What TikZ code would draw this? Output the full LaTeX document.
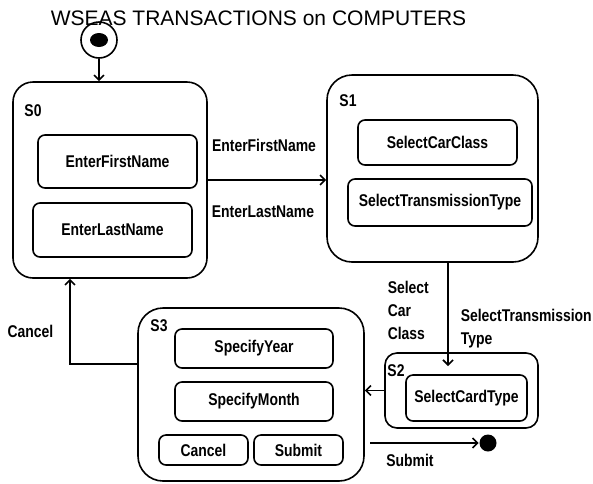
\documentclass[tikz,border=0pt]{standalone}
\usepackage{fontspec}
\setmainfont{Liberation Sans}
\newfontfamily\narrowbf[FakeStretch=0.82]{Liberation Sans Bold}
\usetikzlibrary{shapes, arrows.meta}

\begin{document}
\begin{tikzpicture}[x=1pt, y=-1pt, line width=1.6pt,
        >={Straight Barb[length=5pt, width=10pt]},
        lbl/.style = {font=\narrowbf\fontsize{17}{23}\selectfont, inner sep=0pt},
        state/.style = {draw, rectangle, rounded corners=22pt, inner sep=0pt},
        act/.style = {draw, rectangle, rounded corners=7pt, lbl}]
                \useasboundingbox (0,0) rectangle (593,483);
                \node[anchor=base west, inner sep=0pt, font=\fontsize{21}{25}\selectfont] (title) at (50,25) {WSEAS TRANSACTIONS on COMPUTERS};

                \node[draw, circle, minimum size=36pt, inner sep=0pt] (init) at (99,40) {};
                \fill (init.center) ellipse [x radius=9pt, y radius=7pt];
                \node[circle, fill, minimum size=17pt, inner sep=0pt] (final) at (488,443) {};

                \node[state, minimum width=194pt, minimum height=196pt, rounded corners=20pt] (S0) at (110,180) {};
                \node[state, minimum width=211pt, minimum height=187pt, rounded corners=25pt] (S1) at (432.5,168.5) {};
                \node[state, minimum width=153pt, minimum height=75pt, rounded corners=12pt] (S2) at (461.5,390.5) {};
                \node[state, minimum width=226pt, minimum height=173pt, rounded corners=25pt] (S3) at (251,394.5) {};

                \node[lbl] (s0name) at (33,111) {S0};
                \node[lbl] (s1name) at (348,101) {S1};
                \node[lbl] (s2name) at (396,371) {S2};
                \node[lbl] (s3name) at (159,326) {S3};

                \node[act, minimum width=159pt, minimum height=53pt] (firstname) at (117.5,161.5) {EnterFirstName};
                \node[act, minimum width=159pt, minimum height=54pt] (lastname) at (112.5,230) {EnterLastName};
                \node[act, minimum width=159pt, minimum height=45pt] (carclass) at (437.5,142.5) {SelectCarClass};
                \node[act, minimum width=184pt, minimum height=47pt] (transtype) at (440,202.5) {SelectTransmissionType};
                \node[act, minimum width=121pt, minimum height=46pt] (cardtype) at (466.5,398) {SelectCardType};
                \node[act, minimum width=158pt, minimum height=39pt] (year) at (254,348.5) {SpecifyYear};
                \node[act, minimum width=158pt, minimum height=39pt] (month) at (254,401.5) {SpecifyMonth};
                \node[act, minimum width=89pt, minimum height=30pt] (cancelbtn) at (203.5,450) {Cancel};
                \node[act, minimum width=89pt, minimum height=30pt] (submitbtn) at (298.5,450) {Submit};

                \node[lbl] (l01a) at (264,145) {EnterFirstName};
                \node[lbl] (l01b) at (263,212) {EnterLastName};
                \node[lbl, anchor=west, align=left] (l12a) at (387,310) {Select\\Car\\Class};
                \node[lbl, anchor=west, align=left] (l12b) at (460,328.5) {SelectTransmission\\Type};
                \node[lbl] (l30) at (30.5,331) {Cancel};
                \node[lbl] (l3f) at (410,460) {Submit};

                \coordinate (s2in) at (448,366);
                \coordinate (cancelbend) at (70,364);
                \coordinate (subout) at (370,443);

                \draw [->] (init) -- (init |- S0.north);
                \draw [->] (S0.east) -- (S0.east -| S1.west);
                \draw [->] (S1.south -| s2in) -- (s2in);
                \draw [->] (S2.west) -- (S2.west -| S3.east);
                \draw [->] (cancelbend -| S3.west) -- (cancelbend) -- (cancelbend |- S0.south);
                \draw [->] (subout) -- (final);
\end{tikzpicture}
\end{document}
